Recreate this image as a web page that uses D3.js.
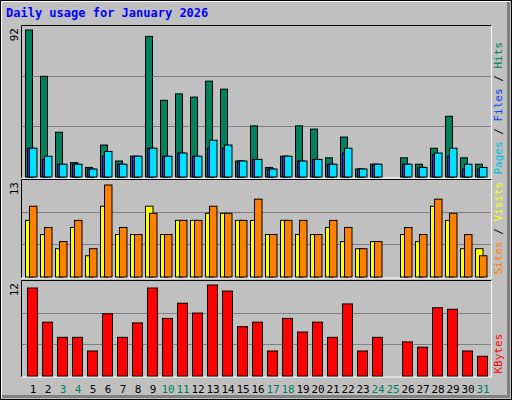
<!DOCTYPE html>
<html><head><meta charset="utf-8">
<script src="https://cdnjs.cloudflare.com/ajax/libs/d3/7.8.5/d3.min.js"></script>
<style>body{margin:0;background:#fff}text{font-family:"DejaVu Sans Mono",monospace}</style>
</head><body><div id="chart"></div>
<script>
var days = d3.range(1, 32);
var weekend = [3,4,10,11,17,18,24,25,31];
var hits  = [92,63,28,9,6,20,10,13,88,48,52,50,60,55,10,32,6,13,32,30,12,25,5,8,0,12,8,18,38,12,8];
var files = [18,11,8,8,5,13,8,13,18,13,15,13,18,18,10,11,5,13,10,11,8,15,5,8,0,8,6,14,13,5,5];
var pages = [18,13,8,8,5,16,8,13,18,13,15,13,23,20,10,11,5,13,10,11,8,18,5,8,0,8,6,15,18,8,6];
var sites  = [8,6,4,7,3,10,6,6,10,6,8,8,9,9,8,8,6,8,6,6,7,5,4,5,0,6,5,10,8,4,4];
var visits = [10,7,5,8,4,13,7,6,9,6,8,8,10,9,8,11,6,8,8,6,8,7,4,5,0,7,6,11,9,6,3];
var kbytes = [11.6,7.1,5.1,5.1,3.3,8.2,5.1,7.0,11.6,7.6,9.6,8.3,12.0,11.2,6.5,7.1,3.3,7.6,5.8,7.1,5.1,9.5,3.3,5.1,0,4.5,3.8,9.0,8.8,3.3,2.6];

var W = 512, H = 400;
var svg = d3.select("#chart").append("svg").attr("width", W).attr("height", H);

// frame
svg.append("rect").attr("width", W).attr("height", H).attr("fill", "#c0c0c0");
svg.append("rect").attr("x", 0.5).attr("y", 0.5).attr("width", W-1).attr("height", H-1).attr("fill", "none").attr("stroke", "#000");
svg.append("path").attr("d", "M1.5,398V1.5H510").attr("stroke", "#fff").attr("fill", "none");
svg.append("path").attr("d", "M2,396.5H508.5V2").attr("stroke", "#808080").attr("stroke-width", 3).attr("fill", "none");

svg.append("text").attr("x", 6).attr("y", 17).attr("fill", "#0000ff")
    .attr("font-size", 12).attr("font-weight", "bold").text("Daily usage for January 2026");

var x = d3.scaleLinear().domain([1, 31]).range([25, 475]);

var panels = [
  {top: 26, base: 176.5, max: 92, maxH: 147, label: "92", series: [
     {v: hits, c: "#00805c", dx: 0, w: 7},
     {v: files, c: "#0040ff", dx: 2, w: 7},
     {v: pages, c: "#00e0ff", dx: 4, w: 7.5}],
   right: [["Pages", "#00c0e0"], [" / ", "#000"], ["Files", "#0040ff"], [" / ", "#000"], ["Hits", "#00805c"]]},
  {top: 180, base: 276.5, max: 13, maxH: 92, label: "13", series: [
     {v: sites, c: "#ffff00", dx: 0, w: 7.5},
     {v: visits, c: "#ff8000", dx: 4, w: 7.5}],
   right: [["Sites", "#ff8000"], [" / ", "#000"], ["Visits", "#ffff00"]]},
  {top: 281, base: 375.5, max: 12, maxH: 91, label: "12", series: [
     {v: kbytes, c: "#ff0000", dx: 2, w: 10}],
   right: [["KBytes", "#ff0000"]]}
];

panels.forEach(function(p){
    // panel frame
    svg.append("path").attr("d", "M21.5," + (p.base+1.5) + "V" + (p.top-0.5) + "H491.5")
        .attr("stroke", "#000").attr("fill", "none");
    svg.append("path").attr("d", "M21.5," + (p.base+1.5) + "H491.5V" + (p.top-0.5))
        .attr("stroke", "#fff").attr("fill", "none");
    var y = d3.scaleLinear().domain([0, p.max]).range([p.base, p.base - p.maxH]);
    var gap = (p.base - p.top) / 3;
    [1, 2].forEach(function(k){
        svg.append("line").attr("x1", 22).attr("x2", 491)
            .attr("y1", Math.round(p.base - gap*k) + 0.5).attr("y2", Math.round(p.base - gap*k) + 0.5)
            .attr("stroke", "#808080");
    });
    p.series.forEach(function(s){
        svg.append("g").selectAll("rect").data(s.v).enter().append("rect")
            .attr("display", function(d){ return d > 0 ? null : "none"; })
            .attr("x", function(d, i){ return x(i+1) + s.dx + 0.5; })
            .attr("y", function(d){ return y(d) + 0.5; })
            .attr("width", s.w)
            .attr("height", function(d){ return p.base - y(d); })
            .attr("fill", s.c).attr("stroke", "#000");
    });
    svg.append("text").attr("transform", "translate(18," + (p.top + 2) + ") rotate(-90)")
        .attr("text-anchor", "end").attr("font-size", 11).text(p.label);
    var t = svg.append("text").attr("transform", "translate(502," + (p.base - 2) + ") rotate(-90)")
        .attr("font-size", 11);
    p.right.forEach(function(r){ t.append("tspan").attr("fill", r[1]).text(r[0]); });
});

svg.append("g").selectAll("text").data(days).enter().append("text")
    .attr("x", function(d){ return x(d) + 8; })
    .attr("y", 393).attr("text-anchor", "middle").attr("font-size", 11)
    .attr("fill", function(d){ return weekend.indexOf(d) >= 0 ? "#00805c" : "#000"; })
    .text(function(d){ return d; });
</script></body></html>
